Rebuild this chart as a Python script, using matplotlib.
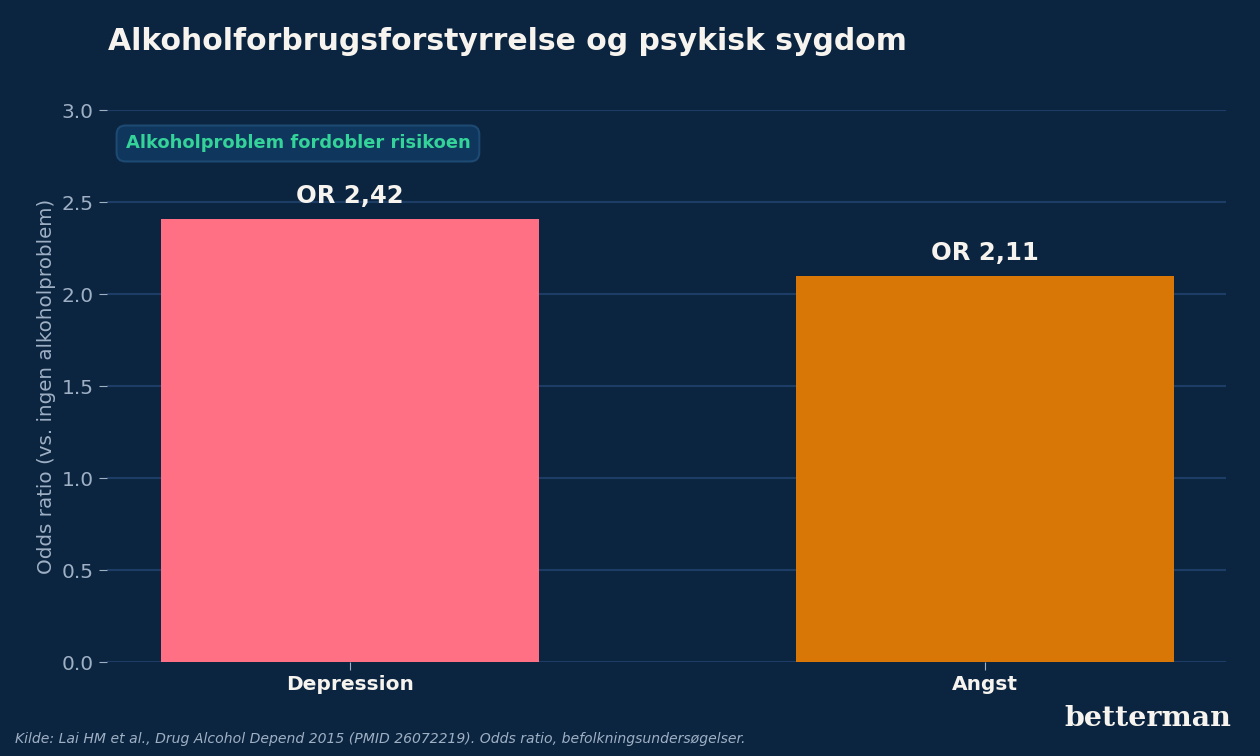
import matplotlib.pyplot as plt

categories = ['Depression', 'Angst']
odds_ratios = [2.41, 2.10]
value_labels = ['OR 2,42', 'OR 2,11']
bar_colors = ['#ff7085', '#d97706']

bg = '#0b2540'
grid_col = '#1e3d66'
tick_col = '#9fb0c5'
light = '#f7f4ef'

fig = plt.figure(figsize=(12.6, 7.56), dpi=100, facecolor=bg)
ax = fig.add_axes([0.085, 0.124, 0.888, 0.730], facecolor=bg)

x = range(len(categories))
ax.bar(x, odds_ratios, width=0.595, color=bar_colors, zorder=3)
for xi, v, lab in zip(x, odds_ratios, value_labels):
    ax.text(xi, v + 0.06, lab, ha='center', va='bottom', color=light,
            fontsize=17.5, fontweight='bold', zorder=4)

ax.set_xlim(-0.383, 1.38)
ax.set_ylim(0, 3.0)
ax.set_yticks([0, 0.5, 1.0, 1.5, 2.0, 2.5, 3.0])
ax.set_yticklabels(['0.0', '0.5', '1.0', '1.5', '2.0', '2.5', '3.0'])
ax.set_xticks(list(x))
ax.set_xticklabels(categories, fontweight='bold', color=light, fontsize=14.5)
ax.tick_params(axis='y', colors=tick_col, labelsize=14.5, length=6)
ax.tick_params(axis='x', colors=tick_col, length=6, labelcolor=light)
ax.grid(axis='y', color=grid_col, linewidth=1.5, zorder=0)
for s in ax.spines.values():
    s.set_visible(False)
ax.set_ylabel('Odds ratio (vs. ingen alkoholproblem)', color=tick_col, fontsize=14.3)

ax.text(0.0165, 0.94, 'Alkoholproblem fordobler risikoen', transform=ax.transAxes,
        ha='left', va='center', color='#34d399', fontsize=12.9, fontweight='bold',
        bbox=dict(boxstyle='round,pad=0.5,rounding_size=0.5', fc='#0f365c', ec='#1d4a73', lw=1.5),
        zorder=5)

fig.text(0.086, 0.945, 'Alkoholforbrugsforstyrrelse og psykisk sygdom', color=light,
         fontsize=21.5, fontweight='bold', ha='left', va='center')
fig.text(0.012, 0.023, 'Kilde: Lai HM et al., Drug Alcohol Depend 2015 (PMID 26072219). Odds ratio, befolkningsundersøgelser.',
         color=tick_col, fontsize=10.1, style='italic', ha='left', va='center')
fig.text(0.977, 0.05, 'betterman', color=light, fontsize=20.5, fontweight='bold',
         family='DejaVu Serif', ha='right', va='center')

fig.savefig('out.png', dpi=100, facecolor=bg)
